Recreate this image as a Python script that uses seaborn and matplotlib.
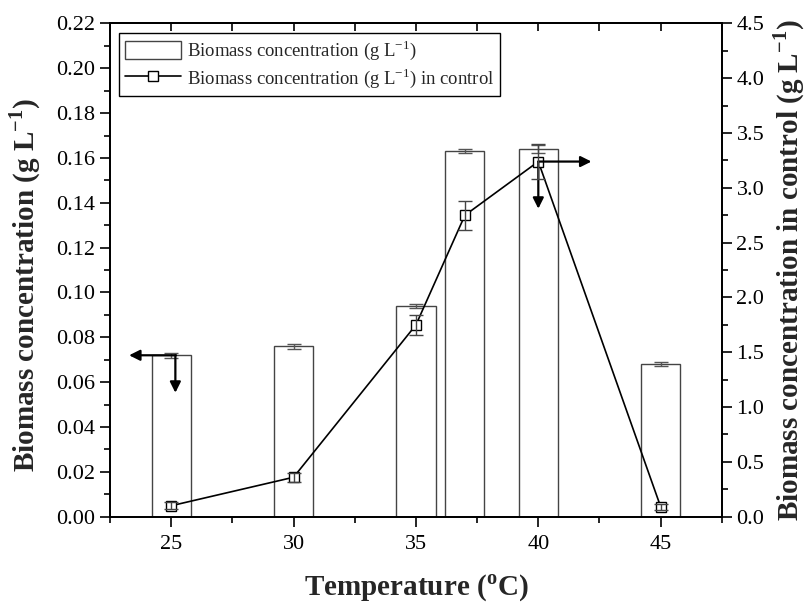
import matplotlib
matplotlib.use("Agg")
import matplotlib.pyplot as plt
import pandas as pd
import seaborn as sns
from matplotlib.ticker import MultipleLocator, FormatStrFormatter
from matplotlib.patches import Patch
from matplotlib.lines import Line2D

# Growth temperature (deg C)
temperature = [25, 30, 35, 37, 40, 45]
# Biomass concentration (g/L), left axis
biomass = [0.072, 0.076, 0.094, 0.163, 0.164, 0.068]
biomass_err = [0.001, 0.001, 0.001, 0.001, 0.002, 0.001]
# Biomass concentration in control (g/L), right axis
control = [0.10, 0.36, 1.75, 2.75, 3.24, 0.09]
control_err = [0.03, 0.04, 0.09, 0.13, 0.16, 0.03]

sns.set_theme(style="ticks")
plt.rcParams["font.family"] = ["Liberation Serif", "DejaVu Serif"]
plt.rcParams["mathtext.fontset"] = "custom"
plt.rcParams["mathtext.rm"] = "Liberation Serif"
plt.rcParams["mathtext.bf"] = "Liberation Serif:bold"
plt.rcParams["axes.edgecolor"] = "black"
plt.rcParams["xtick.color"] = "black"
plt.rcParams["ytick.color"] = "black"

df = pd.DataFrame({"T": temperature, "biomass": biomass, "control": control})

fig = plt.figure(figsize=(8.12, 6.12), dpi=100)
ax = fig.add_axes([0.1355, 0.1557, 0.7535, 0.806])

sns.barplot(data=df, x="T", y="biomass", native_scale=True, width=0.8,
            color="white", saturation=1, edgecolor="#444444", linewidth=1.0,
            errorbar=None, ax=ax)
ax.errorbar(temperature, biomass, yerr=biomass_err, fmt="none",
            ecolor="#555555", elinewidth=1.0, capsize=5, capthick=1.0, zorder=3)

ax.set_xlim(22.5, 47.5)
ax.set_ylim(0, 0.22)
ax.xaxis.set_major_locator(MultipleLocator(5))
ax.xaxis.set_minor_locator(MultipleLocator(2.5))
ax.yaxis.set_major_locator(MultipleLocator(0.02))
ax.yaxis.set_minor_locator(MultipleLocator(0.01))
ax.yaxis.set_major_formatter(FormatStrFormatter("%.2f"))
ax.tick_params(which="major", direction="out", length=7, width=1.2, labelsize=16,
               right=False, top=False)
ax.tick_params(axis="x", which="major", pad=6)
ax.tick_params(which="minor", direction="out", length=4, width=1.2,
               right=False, top=False)
for s in ax.spines.values():
    s.set_linewidth(1.3)
    s.set_visible(True)

top = ax.secondary_xaxis("top")
top.xaxis.set_major_locator(MultipleLocator(5))
top.xaxis.set_minor_locator(MultipleLocator(2.5))
top.tick_params(which="both", direction="in", length=6, width=1.2, labeltop=False)
top.spines["top"].set_linewidth(1.3)

ax.set_xlabel(r"Temperature ($^{\mathbf{o}}$C)", fontsize=21, fontweight="bold", labelpad=14)
ax.set_ylabel(r"Biomass concentration (g L$^{\mathbf{-1}}$)", fontsize=21,
              fontweight="bold")
ax.yaxis.set_label_coords(-0.11, 0.47)

ax2 = ax.twinx()
sns.lineplot(data=df, x="T", y="control", color="black", linewidth=1.2,
             marker="s", markersize=6.5, markerfacecolor="white",
             markeredgecolor="black", markeredgewidth=1.0, ax=ax2)
ax2.errorbar(temperature, control, yerr=control_err, fmt="none",
             ecolor="#444444", elinewidth=1.0, capsize=5, capthick=1.0, zorder=4)
ax2.set_ylim(0, 4.5)
ax2.yaxis.set_major_locator(MultipleLocator(0.5))
ax2.yaxis.set_minor_locator(MultipleLocator(0.25))
ax2.yaxis.set_major_formatter(FormatStrFormatter("%.1f"))
ax2.tick_params(which="major", direction="out", length=7, width=1.2, labelsize=16)
ax2.tick_params(which="minor", direction="out", length=4, width=1.2)
for s in ax2.spines.values():
    s.set_linewidth(1.3)
ax2.set_xlabel("")
ax2.set_ylabel(r"Biomass concentration in control (g L$^{\mathbf{-1}}$)",
               fontsize=21, fontweight="bold", labelpad=5)

# Arrows pointing each series to its axis
arrow = dict(arrowstyle="-|>", color="black", lw=1.6, mutation_scale=16,
             shrinkA=0, shrinkB=0)
ax.annotate("", xy=(23.28, biomass[0]), xytext=(25.2, biomass[0]), arrowprops=arrow)
ax.annotate("", xy=(25.17, 0.0553), xytext=(25.17, biomass[0]), arrowprops=arrow)
ax2.annotate("", xy=(42.17, control[4]), xytext=(40.0, control[4]), arrowprops=arrow)
ax2.annotate("", xy=(40.0, 2.81), xytext=(40.0, control[4]), arrowprops=arrow)

handles = [
    Patch(facecolor="white", edgecolor="#444444", linewidth=1.0),
    Line2D([], [], color="black", linewidth=1.2, marker="s", markersize=6.5,
           markerfacecolor="white", markeredgecolor="black"),
]
labels = [r"Biomass concentration (g L$^{\mathrm{-1}}$)",
          r"Biomass concentration (g L$^{\mathrm{-1}}$) in control"]
leg = ax2.legend(handles, labels, loc="upper left", fontsize=13.5, frameon=True,
                 fancybox=False, edgecolor="black", framealpha=1,
                 borderaxespad=0.5, handlelength=3.0, handleheight=1.1,
                 handletextpad=0.3, borderpad=0.3, labelspacing=0.2)
leg.get_frame().set_linewidth(1.0)

fig.savefig("out.png", dpi=100)
